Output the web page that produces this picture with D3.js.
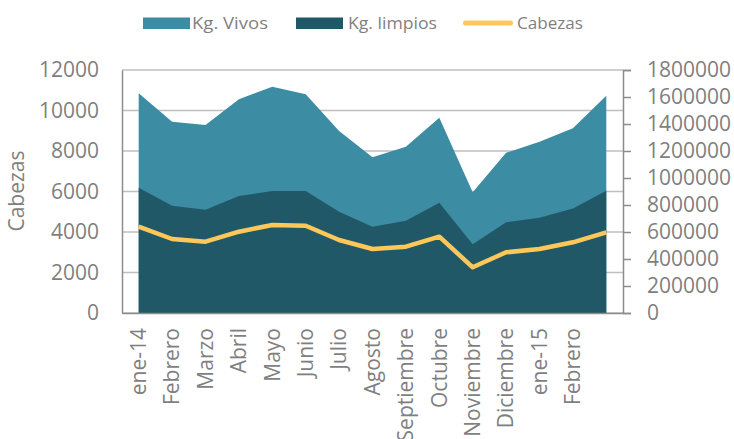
<!DOCTYPE html>
<html lang="es">
  <head>
    <meta charset="utf-8" />
    <title>Cabezas y Kg</title>
    <style>
      body { margin: 0; background: #fff; }
      text { font-family: "Open Sans", sans-serif; fill: #7f7f7f; }
    </style>
  </head>
  <body>
    <script src="https://d3js.org/d3.v7.min.js"></script>
    <div id="chart"></div>
    <script>
      // data
      const meses = ["ene-14", "Febrero", "Marzo", "Abril", "Mayo", "Junio", "Julio", "Agosto",
        "Septiembre", "Octubre", "Noviembre", "Diciembre", "ene-15", "Febrero", ""];
      const kgVivos = [1627000, 1417000, 1393000, 1583000, 1676000, 1620000, 1348000, 1153000,
        1232000, 1447000, 894000, 1187000, 1269000, 1368000, 1610000];
      const kgLimpios = [928000, 795000, 765000, 867000, 904000, 904000, 750000, 639000,
        684000, 817000, 509000, 672000, 706000, 775000, 906000];
      const cabezas = [4262, 3654, 3521, 4015, 4346, 4311, 3605, 3160,
        3274, 3768, 2257, 2997, 3160, 3491, 3985];
      const leftTicks = [0, 2000, 4000, 6000, 8000, 10000, 12000];
      const rightTicks = d3.range(0, 1800001, 200000);

      const W = 734, H = 439;
      const margin = { top: 70, right: 111, bottom: 126, left: 122 };
      const width = W - margin.left - margin.right,
        height = H - margin.top - margin.bottom;

      const svg = d3.select("#chart").append("svg")
        .attr("width", W).attr("height", H);
      const g = svg.append("g")
        .attr("transform", `translate(${margin.left},${margin.top})`);

      const idx = d3.range(meses.length);
      const x = d3.scaleBand().domain(idx).range([0, width]).padding(0);
      const cx = i => x(i) + x.bandwidth() / 2;
      const yL = d3.scaleLinear().domain([0, 12000]).range([height, 0]);
      const yR = d3.scaleLinear().domain([0, 1800000]).range([height, 0]);

      // gridlines
      g.append("g").selectAll("line").data(leftTicks).join("line")
        .attr("x1", 0).attr("x2", width)
        .attr("y1", d => yL(d)).attr("y2", d => yL(d))
        .attr("stroke", "#bfbfbf").attr("stroke-width", 1.3);

      // areas
      const area = vals => d3.area()
        .x(i => cx(i)).y0(height).y1(i => yR(vals[i]))(idx);
      g.append("path").attr("d", area(kgVivos)).attr("fill", "#3c8ca3");
      g.append("path").attr("d", area(kgLimpios)).attr("fill", "#215867");

      // cabezas line
      g.append("path")
        .attr("d", d3.line().x(i => cx(i)).y(i => yL(cabezas[i]))(idx))
        .attr("fill", "none").attr("stroke", "#fdc75a")
        .attr("stroke-width", 4.5).attr("stroke-linejoin", "round");

      // axes
      const axL = g.append("g").call(d3.axisLeft(yL).tickValues(leftTicks).tickSize(0).tickPadding(23).tickFormat(d3.format("d")));
      axL.select(".domain").attr("stroke", "#8c8c8c").attr("stroke-width", 1.5);
      axL.selectAll("text").style("font-size", "21px");

      const axR = g.append("g").attr("transform", `translate(${width},0)`)
        .call(d3.axisRight(yR).tickValues(rightTicks).tickSize(8).tickPadding(16).tickFormat(d3.format("d")));
      axR.select(".domain").attr("stroke", "#8c8c8c").attr("stroke-width", 1.5);
      axR.selectAll(".tick line").attr("stroke", "#8c8c8c").attr("stroke-width", 1.5);
      axR.selectAll("text").style("font-size", "21px");

      const axB = g.append("g").attr("transform", `translate(0,${height})`)
        .call(d3.axisBottom(x).tickSize(0).tickFormat(i => meses[i]));
      axB.select(".domain").attr("stroke", "#8c8c8c").attr("stroke-width", 1.5);
      axB.selectAll("text")
        .style("font-size", "21px")
        .attr("text-anchor", "end")
        .attr("transform", "rotate(-90)")
        .attr("x", -15).attr("y", 0).attr("dy", "0.35em");

      // y title
      svg.append("text")
        .attr("transform", `translate(17,191) rotate(-90)`)
        .attr("text-anchor", "middle").attr("dy", "0.35em")
        .style("font-size", "21px").text("Cabezas");

      // legend
      const legend = svg.append("g");
      const items = [
        { name: "Kg. Vivos", color: "#3c8ca3", type: "rect", x: 143, tx: 192, len: 76 },
        { name: "Kg. limpios", color: "#215867", type: "rect", x: 296, tx: 348, len: 89 },
        { name: "Cabezas", color: "#fdc75a", type: "line", x: 463, tx: 517, len: 66 }
      ];
      items.forEach(d => {
        if (d.type === "rect") {
          legend.append("rect").attr("x", d.x).attr("y", 17.5)
            .attr("width", 47).attr("height", 11.5).attr("fill", d.color);
        } else {
          legend.append("line").attr("x1", d.x + 2.5).attr("x2", d.x + 47.5)
            .attr("y1", 23).attr("y2", 23).attr("stroke", d.color)
            .attr("stroke-width", 5).attr("stroke-linecap", "round");
        }
        legend.append("text").attr("x", d.tx)
          .attr("y", 23).attr("dy", "0.35em")
          .attr("textLength", d.len).attr("lengthAdjust", "spacingAndGlyphs")
          .style("font-size", "17px").text(d.name);
      });
    </script>
  </body>
</html>
